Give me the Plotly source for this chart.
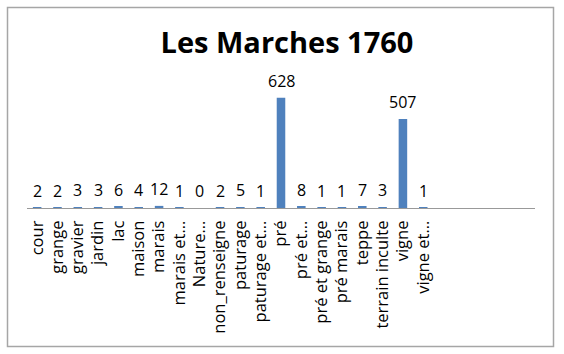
import plotly.graph_objects as go

categories = ["cour", "grange", "gravier", "jardin", "lac", "maison", "marais",
              "marais et...", "Nature...", "non_renseigne", "paturage", "paturage et...",
              "pré", "pré et...", "pré et grange", "pré marais", "teppe",
              "terrain inculte", "vigne", "vigne et..."]
values = [2, 2, 3, 3, 6, 4, 12, 1, 0, 2, 5, 1, 628, 8, 1, 1, 7, 3, 507, 1]
title_text = "Les Marches 1760"

W, H = 564, 354
L, R = 27, 535
B, T = 208, 60
scale = 110.3 / 628.0
ymax = (B - T) / scale
n_slots = 25

fig = go.Figure()
fig.add_trace(go.Bar(
    x=categories, y=values,
    marker=dict(color="#4f81bd", line=dict(width=0)),
    width=0.42,
    hoverinfo="x+y",
))

for c, v in zip(categories, values):
    fig.add_annotation(x=c, y=v, text=str(v), showarrow=False,
                       yshift=17, yanchor="middle", xanchor="center",
                       font=dict(family="Open Sans", size=16, color="#000000"))

fig.add_shape(type="rect", xref="paper", yref="paper",
              x0=(7.5 - L) / (R - L), x1=(553.5 - L) / (R - L),
              y0=(B - 346.5) / (B - T), y1=(B - 7.5) / (B - T),
              line=dict(color="#a6a6a6", width=1.5), fillcolor="rgba(0,0,0,0)",
              layer="below")

fig.update_layout(
    width=W, height=H,
    margin=dict(l=L, r=W - R, t=T, b=H - B, pad=0),
    paper_bgcolor="white", plot_bgcolor="white",
    showlegend=False,
    title=dict(text="<b>" + title_text + "</b>", x=287 / W, xanchor="center",
               y=1 - 43 / H, yanchor="middle", yref="container",
               font=dict(family="Open Sans", size=29, color="#000000")),
    xaxis=dict(type="category", categoryorder="array", categoryarray=categories,
               tickmode="array", tickvals=categories, ticktext=categories,
               range=[-0.5, n_slots - 0.5], showline=True, linecolor="#999999",
               linewidth=1, showgrid=False, ticks="", tickangle=-90,
               ticklabelstandoff=5,
               tickfont=dict(family="Open Sans", size=16.5, color="#000000"),
               zeroline=False),
    yaxis=dict(range=[0, ymax], visible=False, showgrid=False, zeroline=False),
)

fig.write_html("out.html")
